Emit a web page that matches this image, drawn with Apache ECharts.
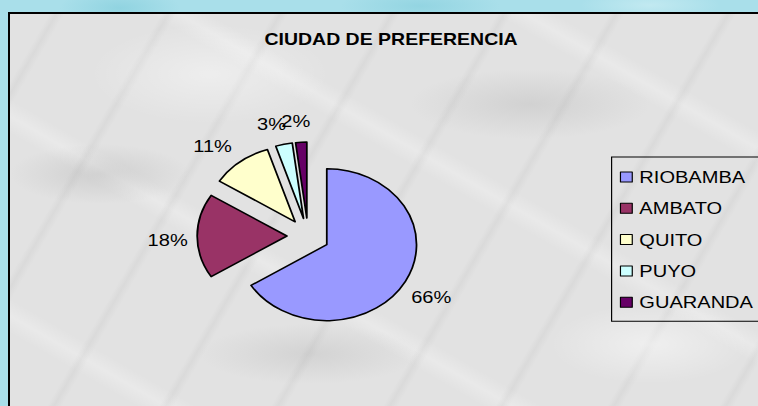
<!DOCTYPE html>
<html>
<head>
<meta charset="utf-8">
<script src="https://cdn.jsdelivr.net/npm/echarts@6/dist/echarts.min.js"></script>
<style>
  html, body { margin: 0; padding: 0; }
  body {
    width: 758px; height: 406px; overflow: hidden; position: relative;
    background:
      radial-gradient(ellipse 60px 20px at 120px 8px, rgba(120,200,215,0.5), rgba(120,200,215,0) 100%),
      radial-gradient(ellipse 80px 18px at 420px 6px, rgba(120,200,215,0.45), rgba(120,200,215,0) 100%),
      radial-gradient(ellipse 70px 16px at 650px 5px, rgba(210,240,245,0.6), rgba(210,240,245,0) 100%),
      #a9dfea;
  }
  #panel {
    position: absolute; left: 8px; top: 12px; width: 760px; height: 400px;
    border-left: 2px solid #000; border-top: 2px solid #000;
    background:
      radial-gradient(ellipse 90px 30px at 90px 160px, rgba(150,150,150,0.25), rgba(150,150,150,0) 100%),
      radial-gradient(ellipse 120px 35px at 520px 90px, rgba(150,150,150,0.22), rgba(150,150,150,0) 100%),
      radial-gradient(ellipse 110px 30px at 300px 340px, rgba(150,150,150,0.2), rgba(150,150,150,0) 100%),
      radial-gradient(ellipse 100px 40px at 640px 330px, rgba(255,255,255,0.45), rgba(255,255,255,0) 100%),
      radial-gradient(ellipse 120px 50px at 200px 60px, rgba(255,255,255,0.4), rgba(255,255,255,0) 100%),
      repeating-linear-gradient(120deg, rgba(255,255,255,0) 0px, rgba(255,255,255,0) 34px, rgba(140,140,140,0.09) 40px, rgba(255,255,255,0) 47px, rgba(255,255,255,0) 97px),
      repeating-linear-gradient(30deg, rgba(255,255,255,0) 0px, rgba(255,255,255,0) 70px, rgba(255,255,255,0.25) 85px, rgba(255,255,255,0) 100px, rgba(255,255,255,0) 173px),
      #e2e2e2;
  }
  #main {
    position: absolute; left: 0; top: 0; width: 642px; height: 406px;
    transform-origin: 0 0; transform: scaleX(1.1807);
  }
</style>
</head>
<body>
<div id="panel"></div>
<div id="main"></div>
<script>
// ciudad de preferencia
const categories = ['RIOBAMBA', 'AMBATO', 'QUITO', 'PUYO', 'GUARANDA'];
const values = [66, 18, 11, 3, 2];
const colors = ['#9999FF', '#993366', '#FFFFCC', '#CCFFFF', '#660066'];

const font = '"Liberation Sans", Arial, sans-serif';

const myChart = echarts.init(document.getElementById('main'), null, { renderer: 'svg' });

const pieData = categories.map((name, i) => ({
  name: name,
  value: values[i],
  selected: true,
  itemStyle: { color: colors[i] },
}));

// small nudges of the crowded labels on the upper left (like excel places them)
const labelNudge = (params) => {
  let dx = 0;
  if (params.dataIndex === 2) dx = -8;
  if (params.dataIndex === 3) dx = -5;
  if (params.dataIndex === 4) dx = -3;
  return { align: 'center', dx: dx, dy: 4, hideOverlap: false };
};

const option = {
  animation: false,
  backgroundColor: 'transparent',
  title: {
    text: 'CIUDAD DE PREFERENCIA',
    left: 224,
    top: 31,
    padding: 0,
    textStyle: {
      fontFamily: font,
      fontWeight: 'bold',
      fontSize: 16.5,
      color: '#000',
    },
  },
  legend: {
    orient: 'vertical',
    left: 518,
    top: 157,
    padding: [10, 20, 9, 7],
    itemWidth: 10,
    itemHeight: 10,
    itemGap: 11.3,
    borderColor: '#000',
    borderWidth: 1,
    icon: 'rect',
    selectedMode: false,
    itemStyle: { borderColor: '#000', borderWidth: 1 },
    textStyle: {
      fontFamily: font,
      fontSize: 17,
      lineHeight: 20,
      color: '#000',
      padding: [0, 0, 0, 1],
    },
    data: categories,
  },
  series: [
    {
      type: 'pie',
      center: [261, 236],
      radius: 76,
      startAngle: 90,
      clockwise: true,
      selectedMode: 'multiple',
      selectedOffset: 18,
      avoidLabelOverlap: false,
      percentPrecision: 0,
      itemStyle: { borderColor: '#000', borderWidth: 1.5 },
      emphasis: { disabled: true },
      label: {
        show: true,
        position: 'outside',
        formatter: '{d}%',
        fontFamily: font,
        fontSize: 17,
        color: '#000',
        distanceToLabelLine: 0,
      },
      labelLine: { show: false, length: 25, length2: 0 },
      labelLayout: labelNudge,
      data: pieData,
    },
  ],
};

option && myChart.setOption(option);
</script>
</body>
</html>
